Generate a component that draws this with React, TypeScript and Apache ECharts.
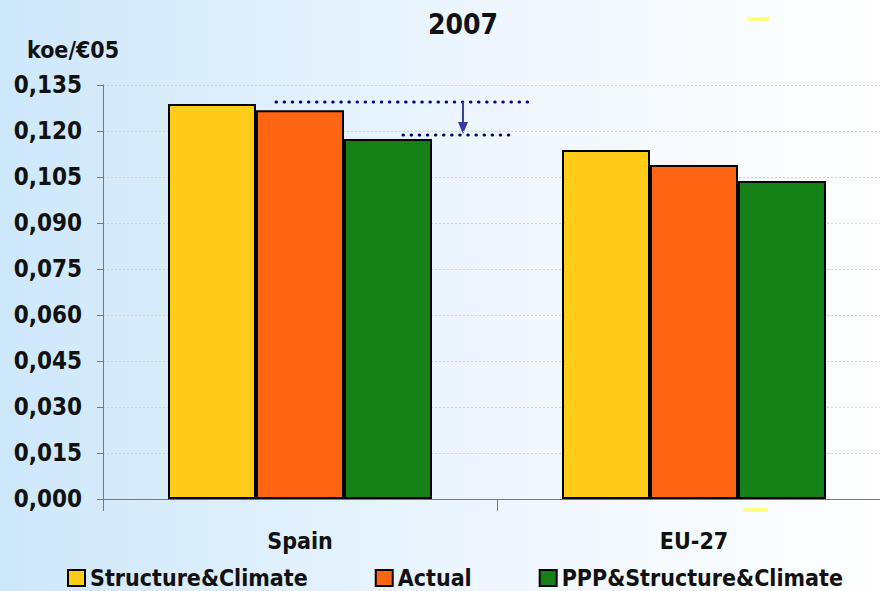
import React, { useEffect, useRef } from "react";
import * as echarts from "echarts";

const categories = ["Spain", "EU-27"];
const seriesNames = ["Structure&Climate", "Actual", "PPP&Structure&Climate"];
const structureClimate = [0.1288, 0.1138];
const actual = [0.1268, 0.1089];
const pppStructureClimate = [0.1174, 0.1037];
const colors = ["#FFCC19", "#FF6611", "#158015"];

const FONT = "'DejaVu Sans Condensed', 'DejaVu Sans', sans-serif";

export default function App() {
  const ref = useRef<HTMLDivElement>(null);
  useEffect(() => {
    const chart = echarts.init(ref.current!, null, { renderer: "svg" });
    const values = [structureClimate, actual, pppStructureClimate];
    chart.setOption({
      animation: false,
      backgroundColor: new echarts.graphic.LinearGradient(0, 0, 1, 0, [
        { offset: 0, color: "#CDE7FA" },
        { offset: 0.55, color: "#EEF6FD" },
        { offset: 1, color: "#FFFFFF" },
      ]),
      textStyle: { fontFamily: FONT },
      grid: { left: 103, right: 0, top: 85, bottom: 92 },
      legend: {
        left: 62,
        top: 566,
        padding: [0, 5, 0, 5],
        itemWidth: 17,
        itemHeight: 16,
        itemGap: 67,
        icon: "rect",
        textStyle: { fontFamily: FONT, fontSize: 23, fontWeight: "bold", color: "#111", lineHeight: 24, padding: [0, 0, 0, 0] },
        data: seriesNames.map((name) => ({ name, itemStyle: { borderColor: "#000", borderWidth: 2 } })),
      },
      xAxis: {
        type: "category",
        data: categories,
        axisLine: { lineStyle: { color: "#777", width: 1 } },
        axisTick: { show: true, length: 12, lineStyle: { color: "#777" } },
        axisLabel: { fontFamily: FONT, fontSize: 23, fontWeight: "bold", color: "#111", margin: 30 },
      },
      yAxis: {
        type: "value",
        min: 0,
        max: 0.135,
        interval: 0.015,
        axisLine: { show: true, lineStyle: { color: "#777", width: 1 } },
        axisTick: { show: true, length: 6, lineStyle: { color: "#777" } },
        axisLabel: {
          fontFamily: FONT,
          fontSize: 24,
          fontWeight: "bold",
          color: "#111",
          margin: 21,
          formatter: (v: number) => v.toFixed(3).replace(".", ","),
        },
        splitLine: { lineStyle: { color: "#D2D2D2", type: [2, 2], width: 1 } },
      },
      series: seriesNames.map((name, i) => ({
        name,
        type: "bar",
        data: values[i],
        barGap: "0%",
        barCategoryGap: "33%",
        itemStyle: { color: colors[i], borderColor: "#000", borderWidth: 2 },
      })),
      graphic: [
        {
          type: "text",
          x: 463,
          y: 24,
          style: { text: "2007", font: `bold 28px ${FONT}`, fill: "#111", textAlign: "center", textVerticalAlign: "middle" },
        },
        {
          type: "text",
          x: 27,
          y: 50,
          style: { text: "koe/€05", font: `bold 23px ${FONT}`, fill: "#111", textAlign: "left", textVerticalAlign: "middle" },
        },
        {
          type: "line",
          shape: { x1: 276, y1: 102, x2: 534, y2: 102 },
          style: { stroke: "#000080", lineWidth: 3, lineDash: [0.5, 7.6], lineCap: "round" },
        },
        {
          type: "line",
          shape: { x1: 403, y1: 135, x2: 513, y2: 135 },
          style: { stroke: "#000080", lineWidth: 3, lineDash: [0.5, 7.6], lineCap: "round" },
        },
        {
          type: "line",
          shape: { x1: 463, y1: 102, x2: 463, y2: 128 },
          style: { stroke: "#3A3AA8", lineWidth: 2 },
        },
        {
          type: "polygon",
          shape: { points: [[458, 122], [468, 122], [463, 134]] },
          style: { fill: "#3A3AA8" },
        },
        { type: "rect", shape: { x: 747, y: 17, width: 23, height: 4 }, style: { fill: "#FFFF80" } },
        { type: "rect", shape: { x: 743, y: 508, width: 24, height: 4 }, style: { fill: "#FFFF80" } },
      ],
    });
    return () => chart.dispose();
  }, []);
  return (
    <div style={{ position: "absolute", left: 0, top: 0, width: 880, height: 591, overflow: "hidden" }}>
      <div ref={ref} style={{ position: "absolute", left: 0, top: 0, width: 891, height: 591 }} />
    </div>
  );
}
